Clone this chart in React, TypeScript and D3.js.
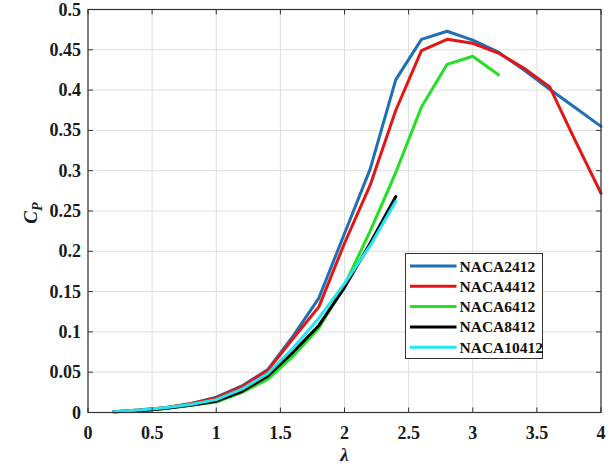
import React from "react";
import * as d3 from "d3";

const lambdas = [0.2, 0.4, 0.6, 0.8, 1.0, 1.2, 1.4, 1.6, 1.8, 2.0, 2.2, 2.4, 2.6, 2.8, 3.0, 3.2, 3.4, 3.6, 3.8, 4.0];
const naca2412 = [0.001, 0.003, 0.006, 0.011, 0.019, 0.033, 0.053, 0.095, 0.142, 0.222, 0.302, 0.413, 0.463, 0.473, 0.462, 0.447, 0.425, 0.401, 0.378, 0.355];
const naca4412 = [0.001, 0.003, 0.006, 0.011, 0.018, 0.032, 0.052, 0.092, 0.131, 0.21, 0.282, 0.375, 0.449, 0.463, 0.458, 0.446, 0.427, 0.404, 0.337, 0.272];
const naca6412 = [0.001, 0.002, 0.005, 0.009, 0.013, 0.025, 0.041, 0.07, 0.105, 0.158, 0.225, 0.298, 0.379, 0.432, 0.442, 0.419];
const naca8412 = [0.001, 0.002, 0.005, 0.009, 0.014, 0.026, 0.045, 0.075, 0.108, 0.155, 0.21, 0.268];
const naca10412 = [0.001, 0.003, 0.006, 0.010, 0.016, 0.029, 0.048, 0.08, 0.117, 0.16, 0.207, 0.262];

const seriesNames = ["NACA2412", "NACA4412", "NACA6412", "NACA8412", "NACA10412"];
const seriesValues = [naca2412, naca4412, naca6412, naca8412, naca10412];
const seriesColors = ["#1f6fb4", "#e31515", "#22e022", "#000000", "#22e5f0"];

const xTicks = [0, 0.5, 1, 1.5, 2, 2.5, 3, 3.5, 4];
const yTicks = [0, 0.05, 0.1, 0.15, 0.2, 0.25, 0.3, 0.35, 0.4, 0.45, 0.5];

const W = 614, H = 468;
const L = 88, R = 601, T = 9.5, B = 412.5;

export default function App() {
  const x = d3.scaleLinear().domain([0, 4]).range([L, R]);
  const y = d3.scaleLinear().domain([0, 0.5]).range([B, T]);
  const line = d3.line<[number, number]>().x(d => x(d[0])).y(d => y(d[1]));
  const fmt = (v: number) => String(+v.toFixed(2));
  const ts = { fontFamily: "'Liberation Serif', serif" };
  const axisColor = "#333";
  const tickLen = 5;

  const legX = 405.5, legY = 253.5, legW = 137, legH = 105, rowH = 20.3;

  return (
    <svg width={W} height={H} style={{ position: "absolute", left: 0, top: 0, background: "#fff" }}>
      <rect x={0} y={0} width={W} height={H} fill="#fff" />
      <g stroke="#dedede" strokeWidth={1}>
        {xTicks.map(t => (
          <line key={"gx" + t} x1={x(t)} x2={x(t)} y1={T} y2={B} />
        ))}
        {yTicks.map(t => (
          <line key={"gy" + t} x1={L} x2={R} y1={y(t)} y2={y(t)} />
        ))}
      </g>
      {seriesValues.map((vals, i) => (
        <path key={seriesNames[i]}
          d={line(vals.map((v, j) => [lambdas[j], v] as [number, number])) || ""}
          fill="none" stroke={seriesColors[i]} strokeWidth={3} strokeLinejoin="round" strokeLinecap="round" />
      ))}
      <g stroke={axisColor} strokeWidth={1}>
        {xTicks.map(t => (
          <g key={"tx" + t}>
            <line x1={x(t)} x2={x(t)} y1={B} y2={B - tickLen} />
            <line x1={x(t)} x2={x(t)} y1={T} y2={T + tickLen} />
          </g>
        ))}
        {yTicks.map(t => (
          <g key={"ty" + t}>
            <line x1={L} x2={L + tickLen} y1={y(t)} y2={y(t)} />
            <line x1={R} x2={R - tickLen} y1={y(t)} y2={y(t)} />
          </g>
        ))}
      </g>
      <rect x={L} y={T} width={R - L} height={B - T} fill="none" stroke={axisColor} strokeWidth={1.2} />
      <g fontWeight="bold" fontSize={18} fill="#1a1a1a" style={ts}>
        {xTicks.map(t => (
          <text key={"lx" + t} x={x(t)} y={438.5} textAnchor="middle" style={ts}>{fmt(t)}</text>
        ))}
        {yTicks.map(t => (
          <text key={"ly" + t} x={81} y={y(t) + 6} textAnchor="end" style={ts}>{fmt(t)}</text>
        ))}
      </g>
      <text x={x(2)} y={461} textAnchor="middle" fontWeight="bold" fontStyle="italic" fontSize={19} fill="#1a1a1a" style={ts}>λ</text>
      <text transform={`translate(37,${213}) rotate(-90)`} textAnchor="middle" fontWeight="bold" fontStyle="italic" fontSize={19} fill="#1a1a1a" style={ts}>
        C<tspan fontSize={14} dy={5}>P</tspan>
      </text>
      <g>
        <rect x={legX} y={legY} width={legW} height={legH} fill="#fff" stroke="#333" strokeWidth={1} />
        {seriesNames.map((n, i) => {
          const ry = legY + 12.5 + i * rowH;
          return (
            <g key={"leg" + n}>
              <line x1={410} x2={456.5} y1={ry} y2={ry} stroke={seriesColors[i]} strokeWidth={3} />
              <text x={459.5} y={ry + 5.5} fontWeight="bold" fontSize={15.5} fill="#111" style={ts}>{n}</text>
            </g>
          );
        })}
      </g>
    </svg>
  );
}
